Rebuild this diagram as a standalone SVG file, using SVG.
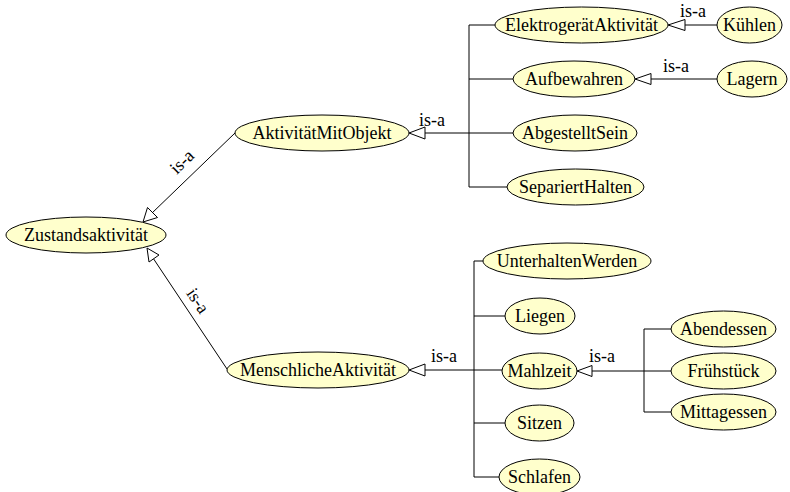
<svg xmlns="http://www.w3.org/2000/svg" width="790" height="492" viewBox="0 0 790 492" font-family="'Liberation Serif', serif" font-size="18">
  <style>
    .node ellipse { fill: #ffffcc; stroke: #000; stroke-width: 1; }
    .node text { fill: #000; text-anchor: middle; dominant-baseline: central; }
    .edges line, .edges polyline { stroke: #000; stroke-width: 1; fill: none; }
    .edges polygon { fill: #fff; stroke: #000; stroke-width: 1; }
    .lbl { fill: #000; text-anchor: middle; }
  </style>

  <!-- connectors -->
  <g id="edges" class="edges">
    <!-- AktivitätMitObjekt -> Zustandsaktivität -->
    <line x1="235" y1="133" x2="151" y2="214"/>
    <polygon points="143,222 147.5,207.5 157.5,217.5"/>
    <text class="lbl" transform="translate(186,166) rotate(-44)">is-a</text>

    <!-- MenschlicheAktivität -> Zustandsaktivität -->
    <line x1="227" y1="369" x2="153" y2="258"/>
    <polygon points="147,248 159,255 149,262"/>
    <text class="lbl" transform="translate(193,304) rotate(56)">is-a</text>

    <!-- upper bus into AktivitätMitObjekt -->
    <line x1="425" y1="133" x2="469" y2="133"/>
    <polygon points="409,133 425,127 425,139"/>
    <text class="lbl" x="432" y="126">is-a</text>
    <polyline points="495,25 469,25 469,187 507,187"/>
    <line x1="469" y1="79" x2="513" y2="79"/>
    <line x1="469" y1="133" x2="513" y2="133"/>

    <!-- Kühlen -> ElektrogerätAktivität -->
    <line x1="685" y1="25" x2="717" y2="25"/>
    <polygon points="668,25 685,19.5 685,30.5"/>
    <text class="lbl" x="693" y="17">is-a</text>

    <!-- Lagern -> Aufbewahren -->
    <line x1="651" y1="79" x2="717" y2="79"/>
    <polygon points="635,79 651,73.5 651,84.5"/>
    <text class="lbl" x="676" y="72">is-a</text>

    <!-- lower bus into MenschlicheAktivität -->
    <line x1="425" y1="370" x2="502" y2="370"/>
    <polygon points="409,370 425,364 425,376"/>
    <text class="lbl" x="444" y="362">is-a</text>
    <polyline points="483,261 474,261 474,477 499,477"/>
    <line x1="474" y1="316" x2="505" y2="316"/>
    <line x1="474" y1="423" x2="505" y2="423"/>

    <!-- meal bus into Mahlzeit -->
    <line x1="592" y1="371" x2="671" y2="371"/>
    <polygon points="577,371 592,365.5 592,376.5"/>
    <text class="lbl" x="602" y="362">is-a</text>
    <polyline points="671,329 644,329 644,412 671,412"/>
  </g>

  <!-- nodes -->
  <g id="n-zustandsaktivitaet" class="node"><ellipse cx="86" cy="235" rx="80" ry="18"/><text x="86" y="235">Zustandsaktivität</text></g>
  <g id="n-aktivitaetmitobjekt" class="node"><ellipse cx="322" cy="133" rx="87" ry="18"/><text x="322" y="133">AktivitätMitObjekt</text></g>
  <g id="n-menschlicheaktivitaet" class="node"><ellipse cx="318" cy="370" rx="91" ry="18"/><text x="318" y="370">MenschlicheAktivität</text></g>

  <g id="n-elektrogeraetaktivitaet" class="node"><ellipse cx="581.5" cy="25" rx="86.5" ry="18"/><text x="581.5" y="25">ElektrogerätAktivität</text></g>
  <g id="n-aufbewahren" class="node"><ellipse cx="574" cy="79" rx="61" ry="18"/><text x="574" y="79">Aufbewahren</text></g>
  <g id="n-abgestelltsein" class="node"><ellipse cx="575" cy="133" rx="62" ry="18"/><text x="575" y="133">AbgestelltSein</text></g>
  <g id="n-separierthalten" class="node"><ellipse cx="575.5" cy="187" rx="68.5" ry="18"/><text x="575.5" y="187">SepariertHalten</text></g>
  <g id="n-kuehlen" class="node"><ellipse cx="749.5" cy="25" rx="32.5" ry="18"/><text x="749.5" y="25">Kühlen</text></g>
  <g id="n-lagern" class="node"><ellipse cx="752" cy="79" rx="35" ry="18"/><text x="752" y="79">Lagern</text></g>

  <g id="n-unterhaltenwerden" class="node"><ellipse cx="567" cy="261" rx="84" ry="18"/><text x="567" y="261">UnterhaltenWerden</text></g>
  <g id="n-liegen" class="node"><ellipse cx="540" cy="316" rx="35" ry="18"/><text x="540" y="316">Liegen</text></g>
  <g id="n-mahlzeit" class="node"><ellipse cx="539.5" cy="371" rx="37.5" ry="18"/><text x="539.5" y="371">Mahlzeit</text></g>
  <g id="n-sitzen" class="node"><ellipse cx="539.5" cy="423" rx="34.5" ry="18"/><text x="539.5" y="423">Sitzen</text></g>
  <g id="n-schlafen" class="node"><ellipse cx="539.5" cy="477" rx="40.5" ry="18"/><text x="539.5" y="477">Schlafen</text></g>

  <g id="n-abendessen" class="node"><ellipse cx="723.5" cy="329" rx="52.5" ry="18"/><text x="723.5" y="329">Abendessen</text></g>
  <g id="n-fruehstueck" class="node"><ellipse cx="723.5" cy="371" rx="52.5" ry="18"/><text x="723.5" y="371">Frühstück</text></g>
  <g id="n-mittagessen" class="node"><ellipse cx="723.5" cy="412" rx="52.5" ry="18"/><text x="723.5" y="412">Mittagessen</text></g>
</svg>
